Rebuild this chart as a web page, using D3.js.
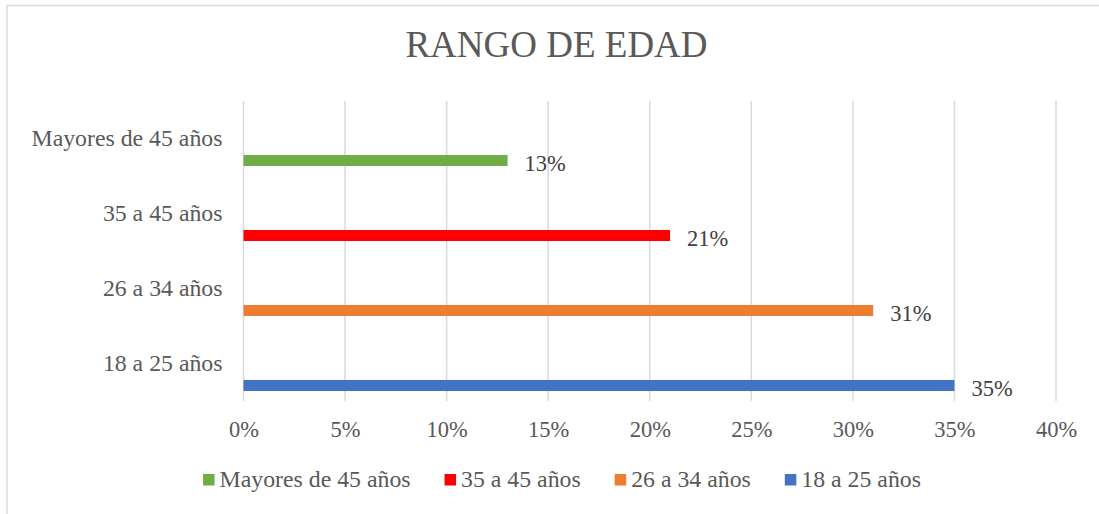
<!DOCTYPE html>
<html lang="es">
<head>
<meta charset="utf-8">
<script src="https://d3js.org/d3.v7.min.js"></script>
<title>RANGO DE EDAD</title>
<style>
  body { margin: 0; background: #fff; }
  svg text { font-family: "Liberation Serif", "Times New Roman", serif; }
  .grid line { stroke: #d9d9d9; stroke-width: 1.5px; }
  .axis path, .axis line { display: none; }
  .axis text { fill: #595959; }
</style>
</head>
<body>
<svg id="chart" width="1099" height="514"></svg>
<script>
// data
var categories = ["Mayores de 45 años", "35 a 45 años", "26 a 34 años", "18 a 25 años"];
var values = [13, 21, 31, 35];
var colors = ["#70ad47", "#ff0000", "#ed7d31", "#4472c4"];
var ticks = [0, 5, 10, 15, 20, 25, 30, 35, 40];

var svg = d3.select("#chart");

var margin = {top: 101, left: 243.5, right: 1056, bottom: 401};

// chart frame
svg.append("rect")
    .attr("x", 7).attr("y", 5.5)
    .attr("width", 1110).attr("height", 520)
    .attr("fill", "#fff")
    .attr("stroke", "#d9d9d9")
    .attr("stroke-width", 1.5);

svg.append("text")
    .attr("x", 556.5)
    .attr("y", 57)
    .attr("text-anchor", "middle")
    .style("font-size", "37px")
    .attr("fill", "#595959")
    .text("RANGO DE EDAD");

var x = d3.scaleLinear()
    .domain([0, 40])
    .range([margin.left, margin.right]);

var y = d3.scaleBand()
    .domain(categories)
    .range([margin.top, margin.bottom]);

// vertical gridlines
svg.append("g")
    .attr("class", "grid")
  .selectAll("line")
  .data(ticks)
  .enter().append("line")
    .attr("x1", function(d) { return x(d); })
    .attr("x2", function(d) { return x(d); })
    .attr("y1", margin.top)
    .attr("y2", margin.bottom);

// x axis labels
var xAxis = svg.append("g")
    .attr("class", "axis axis--x")
    .attr("transform", "translate(0," + margin.bottom + ")")
    .call(d3.axisBottom(x).tickValues(ticks).tickSize(0).tickFormat(function(d) { return d + "%"; }));
xAxis.selectAll("text")
    .attr("y", 36)
    .attr("dy", 0)
    .style("font-size", "22.5px");

// y axis labels
var yAxis = svg.append("g")
    .attr("class", "axis axis--y")
    .attr("transform", "translate(" + (margin.left - 21) + ",0)")
    .call(d3.axisLeft(y).tickSize(0).tickPadding(0));
yAxis.selectAll("text")
    .attr("dy", "0.32em")
    .style("font-size", "23.8px");

// bars (each sits in the lower slot of its category)
var barTop = function(d) { return y(d) + y.bandwidth() * 0.72; };

svg.append("g").selectAll("rect")
  .data(categories)
  .enter().append("rect")
    .attr("x", x(0))
    .attr("y", barTop)
    .attr("height", y.bandwidth() * 0.147)
    .attr("width", function(d, i) { return x(values[i]) - x(0); })
    .attr("fill", function(d, i) { return colors[i]; });

svg.append("g").selectAll("text")
  .data(categories)
  .enter().append("text")
    .attr("x", function(d, i) { return x(values[i]) + 17; })
    .attr("y", function(d) { return barTop(d) + 15.5; })
    .style("font-size", "22.5px")
    .attr("fill", "#404040")
    .text(function(d, i) { return values[i] + "%"; });

// legend
var legend = svg.append("g").attr("class", "legend");
var items = legend.selectAll("g")
  .data(categories)
  .enter().append("g");
items.append("rect")
    .attr("y", 474)
    .attr("width", 11.5)
    .attr("height", 11.5)
    .attr("fill", function(d, i) { return colors[i]; });
items.append("text")
    .attr("x", 16.5)
    .attr("y", 487)
    .style("font-size", "23.8px")
    .attr("fill", "#595959")
    .text(function(d) { return d; });

var pos = 0, offsets = [];
items.each(function() {
  offsets.push(pos);
  pos += 16.5 + d3.select(this).select("text").node().getComputedTextLength() + 34;
});
var total = pos - 34;
var start = 562 - total / 2;
items.attr("transform", function(d, i) { return "translate(" + (start + offsets[i]) + ",0)"; });
</script>
</body>
</html>
